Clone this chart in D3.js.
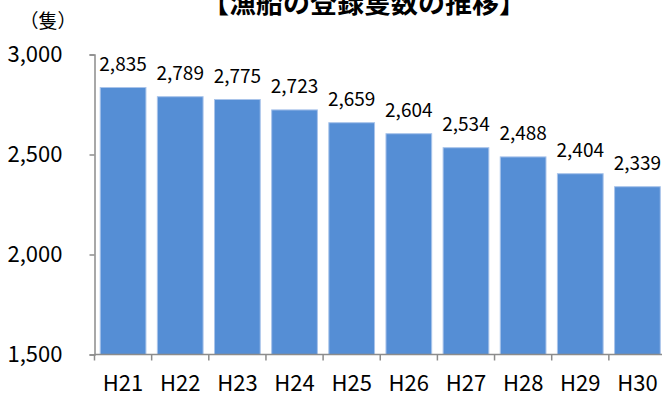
<!DOCTYPE html>
<html><head><meta charset="utf-8">
<script src="https://cdn.jsdelivr.net/npm/d3@7"></script>
<style>body{margin:0;background:#fff}svg{display:block}text{font-family:"Noto Sans CJK JP","Noto Sans",sans-serif}</style>
</head><body><svg id="c" width="662" height="396"></svg>
<script>
const categories = ["H21","H22","H23","H24","H25","H26","H27","H28","H29","H30"];
const values = [2835,2789,2775,2723,2659,2604,2534,2488,2404,2339];
const yTicks = [1500,2000,2500,3000];
const title = "【漁船の登録隻数の推移】";
const unit = "（隻）";

const svg = d3.select("#c");
const mLeft = 94.5, mRight = 666, mTop = 54.5, mBottom = 354.5;
const x = d3.scaleBand().domain(categories).range([mLeft, mRight]).paddingInner(0.2).paddingOuter(0.1);
const y = d3.scaleLinear().domain([1500,3000]).range([mBottom, mTop]);

svg.append("text").attr("x",364).attr("y",13).attr("text-anchor","middle")
  .attr("font-size",27).attr("font-weight","bold").attr("fill","#000").text(title);
svg.append("text").attr("x",48).attr("y",28).attr("text-anchor","middle")
  .attr("font-size",19).attr("fill","#000").text(unit);

svg.selectAll("rect.bar").data(values).enter().append("rect").attr("class","bar")
  .attr("x",(d,i)=>x(categories[i])).attr("width",x.bandwidth())
  .attr("y",d=>y(d)).attr("height",d=>mBottom-y(d))
  .attr("fill","#558ED5").attr("stroke","#A9C4EA").attr("stroke-width",1);

svg.selectAll("text.lab").data(values).enter().append("text").attr("class","lab")
  .attr("x",(d,i)=>x(categories[i])+x.bandwidth()/2).attr("y",d=>y(d)-17)
  .attr("text-anchor","middle").attr("font-size",19).attr("fill","#000")
  .text(d=>d3.format(",")(d));

const ya = svg.append("g").attr("transform",`translate(${mLeft},0)`)
  .call(d3.axisLeft(y).tickValues(yTicks).tickFormat(d3.format(",")).tickSize(5).tickPadding(27));
ya.select(".domain").attr("stroke","#8c8c8c").attr("stroke-width",1.5);
ya.selectAll(".tick line").attr("stroke","#8c8c8c").attr("stroke-width",1.5);
ya.selectAll(".tick text").attr("font-size",22).attr("fill","#000")
  .attr("font-family",'"Noto Sans CJK JP",sans-serif');

const step = x.step();
const xa = svg.append("g");
xa.append("line").attr("x1",mLeft).attr("x2",mRight).attr("y1",mBottom).attr("y2",mBottom)
  .attr("stroke","#8c8c8c").attr("stroke-width",1.5);
const xb = d3.scaleLinear().domain([0,categories.length]).range([mLeft, mLeft + step*categories.length]);
xa.selectAll("line.t").data(d3.range(categories.length+1)).enter().append("line").attr("class","t")
  .attr("x1",i=>xb(i)).attr("x2",i=>xb(i)).attr("y1",mBottom).attr("y2",mBottom+6)
  .attr("stroke","#8c8c8c").attr("stroke-width",1.5);
xa.selectAll("text").data(categories).enter().append("text")
  .attr("x",c=>x(c)+x.bandwidth()/2).attr("y",391).attr("text-anchor","middle")
  .attr("font-size",22).attr("fill","#000").text(c=>c);
</script></body></html>
